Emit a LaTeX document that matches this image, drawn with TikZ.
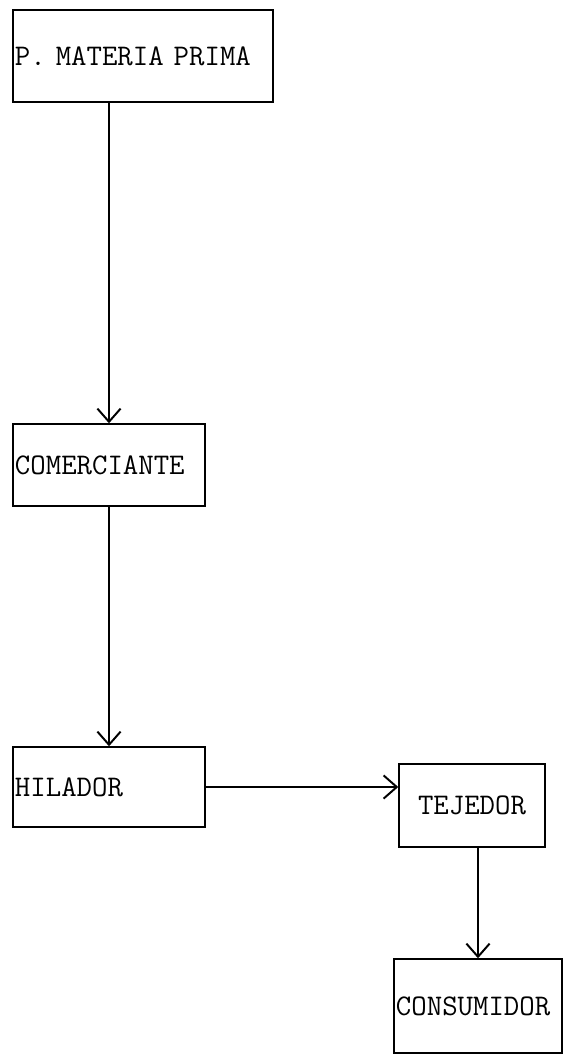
\documentclass[tikz,border=0pt]{standalone}
\usepackage{tikz}
\usetikzlibrary{positioning, arrows.meta, calc}

\begin{document}
\begin{tikzpicture}[
  x=0.025cm, y=-0.025cm,
  stage/.style={draw, line width=1pt, inner xsep=0.05cm, inner ysep=0pt,
                font=\fontsize{21.3}{24}\selectfont\ttfamily, align=left},
  arr/.style={-{Straight Barb[length=0.33cm, width=0.58cm]}, line width=1.4pt},
]
  \useasboundingbox (0,0) rectangle (564,1056);

  \node[stage, text width=6.4cm, minimum height=2.3cm] (prima) at (143,56) {P. MATERIA PRIMA};
  \node[stage, text width=4.7cm, minimum height=2.05cm] (comer) at (109,465) {COMERCIANTE};
  \node[stage, text width=4.7cm, minimum height=2.0cm] (hilador) at (109,787) {HILADOR};
  \node[stage, text width=3.55cm, minimum height=2.075cm, align=center] (tejedor) at (472,805.5) {TEJEDOR};
  \node[stage, text width=4.1cm, minimum height=2.35cm] (consum) at (478,1006) {CONSUMIDOR};

  \draw[arr] (comer.north |- prima.south) -- (comer.north);
  \draw[arr] (comer.south) -- (hilador.north);
  \draw[arr] (hilador.east) -- (hilador.east -| tejedor.west);
  \draw[arr] (consum.north |- tejedor.south) -- (consum.north);
\end{tikzpicture}
\end{document}
